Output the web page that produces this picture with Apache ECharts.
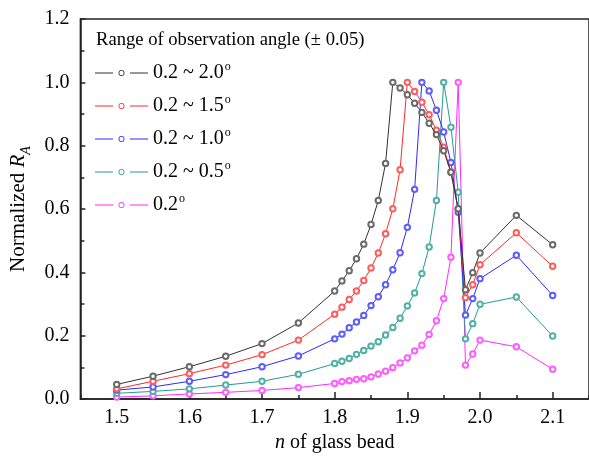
<!DOCTYPE html>
<html>
<head>
<meta charset="utf-8">
<script src="https://cdn.jsdelivr.net/npm/echarts@6/dist/echarts.min.js"></script>
<style>
html,body{margin:0;padding:0;background:#fff;}
#chart{width:589px;height:460px;}
</style>
</head>
<body>
<div id="chart"></div>
<script>
// refractive index of glass bead (x values)
const nValues = [1.5, 1.55, 1.6, 1.65, 1.7, 1.75,
  1.80, 1.81, 1.82, 1.83, 1.84, 1.85, 1.86, 1.87, 1.88, 1.89,
  1.90, 1.91, 1.92, 1.93, 1.94, 1.95, 1.96, 1.97, 1.98, 1.99,
  2.00, 2.05, 2.10];

const seriesNames = ['0.2 ~ 2.0', '0.2 ~ 1.5', '0.2 ~ 1.0', '0.2 ~ 0.5', '0.2'];
const seriesColors = ['#333333', '#ff2a2a', '#2a2aff', '#229c90', '#ff2aff'];
const symbolColors = ['#6a6a6a', '#ff5c5c', '#5c5cff', '#4fb0a6', '#ff5cff'];

const ra_20 = [0.046, 0.072, 0.102, 0.135, 0.175, 0.240,
  0.341, 0.373, 0.405, 0.443, 0.489, 0.551, 0.627, 0.744, 1.000, 0.982,
  0.961, 0.934, 0.905, 0.871, 0.835, 0.784, 0.716, 0.601, 0.345, 0.399,
  0.461, 0.580, 0.487];
const ra_15 = [0.032, 0.056, 0.080, 0.107, 0.140, 0.186,
  0.268, 0.290, 0.314, 0.341, 0.374, 0.414, 0.461, 0.522, 0.601, 0.724,
  1.000, 0.971, 0.937, 0.898, 0.849, 0.795, 0.716, 0.600, 0.320, 0.361,
  0.424, 0.525, 0.419];
const ra_10 = [0.028, 0.038, 0.056, 0.077, 0.102, 0.136,
  0.190, 0.205, 0.225, 0.243, 0.264, 0.295, 0.323, 0.361, 0.408, 0.462,
  0.542, 0.662, 1.000, 0.973, 0.912, 0.843, 0.747, 0.590, 0.265, 0.317,
  0.380, 0.454, 0.327];
const ra_05 = [0.018, 0.024, 0.032, 0.044, 0.056, 0.078,
  0.112, 0.119, 0.128, 0.141, 0.153, 0.167, 0.181, 0.202, 0.226, 0.255,
  0.294, 0.335, 0.396, 0.480, 0.627, 1.000, 0.858, 0.653, 0.190, 0.238,
  0.299, 0.322, 0.199];
const ra_02 = [0.006, 0.010, 0.016, 0.021, 0.027, 0.036,
  0.049, 0.055, 0.058, 0.062, 0.064, 0.070, 0.079, 0.088, 0.099, 0.114,
  0.130, 0.152, 0.170, 0.204, 0.247, 0.317, 0.448, 1.000, 0.107, 0.142,
  0.186, 0.165, 0.094];

const allValues = [ra_20, ra_15, ra_10, ra_05, ra_02];

const xLabelValues = [1.5, 1.6, 1.7, 1.8, 1.9, 2.0, 2.1];

const FONT = '"Liberation Serif", "Times New Roman", serif';

// legend icon: line - ring - line with gaps (53 x 6 box)
const LEGEND_ICON = 'path://M0,2.5L18,2.5L18,3.5L0,3.5Z M35,2.5L53,2.5L53,3.5L35,3.5Z ' +
  'M23.5,3A3,3 0 1,1 29.5,3A3,3 0 1,1 23.5,3Z M24.3,3A2.2,2.2 0 1,0 28.7,3A2.2,2.2 0 1,0 24.3,3Z';

const chart = echarts.init(document.getElementById('chart'), null, {renderer: 'canvas'});

const series = allValues.map((vals, k) => ({
  name: seriesNames[k],
  type: 'line',
  data: nValues.map((x, i) => [x, vals[i]]),
  symbol: 'emptyCircle',
  symbolSize: 5.4,
  showSymbol: true,
  color: seriesColors[k],
  lineStyle: {width: 1, color: seriesColors[k]},
  itemStyle: {color: symbolColors[k], borderColor: symbolColors[k], borderWidth: 0.7},
  emphasis: {disabled: true},
  animation: false,
  z: 10 - k
}));

const option = {
  animation: false,
  backgroundColor: '#fff',
  grid: {
    left: 79.5, top: 19, right: -3, bottom: 61,
    show: true, borderColor: '#222', borderWidth: 1.5, backgroundColor: 'transparent'
  },
  graphic: [{
    type: 'text', left: 96, top: 31,
    style: {text: 'Range of observation angle (\u00b1 0.05)', font: '18.6px ' + FONT, fill: '#000'}
  }],
  legend: {
    orient: 'vertical',
    left: 90, top: 56,
    padding: 5,
    itemWidth: 53, itemHeight: 6,
    itemGap: 9,
    icon: LEGEND_ICON,
    itemStyle: {borderWidth: 0},
    data: seriesNames.map((n, k) => ({name: n, itemStyle: {color: seriesColors[k], borderWidth: 0}})),
    formatter: function (name) { return '{t|' + name + '}{s|o}'; },
    textStyle: {
      fontFamily: FONT, fontSize: 20, color: '#000',
      rich: {
        t: {fontFamily: FONT, fontSize: 20, color: '#000', lineHeight: 22},
        s: {fontFamily: FONT, fontSize: 12, color: '#000', lineHeight: 12, padding: [0, 0, 12, 1]}
      }
    }
  },
  xAxis: [{
    type: 'value', min: 1.45, max: 2.15,
    name: '{i|n} of glass bead', nameLocation: 'middle', nameGap: 25,
    nameTextStyle: {
      fontFamily: FONT, fontSize: 20, color: '#000',
      rich: {i: {fontFamily: FONT, fontSize: 20, fontStyle: 'italic', color: '#000'}}
    },
    axisLine: {show: true, lineStyle: {color: '#222', width: 1.5}},
    axisTick: {show: true, inside: true, length: 7, customValues: xLabelValues, lineStyle: {color: '#222', width: 1.5}},
    axisLabel: {customValues: xLabelValues, fontFamily: FONT, fontSize: 20, color: '#000', margin: 9,
      formatter: v => v.toFixed(1)},
    splitLine: {show: false}
  }, {
    type: 'value', min: 1.45, max: 2.15, interval: 0.05, position: 'bottom',
    axisLine: {show: false},
    axisTick: {show: true, inside: true, length: 4, lineStyle: {color: '#222', width: 1.5}},
    axisLabel: {show: false},
    splitLine: {show: false}
  }],
  yAxis: {
    type: 'value', min: 0, max: 1.2, interval: 0.2,
    name: 'Normalized {i|R}{sub|A}', nameLocation: 'middle', nameGap: 44, nameRotate: 90,
    nameTextStyle: {
      fontFamily: FONT, fontSize: 21, color: '#000',
      rich: {
        i: {fontFamily: FONT, fontSize: 21, fontStyle: 'italic', color: '#000'},
        sub: {fontFamily: FONT, fontSize: 14, fontStyle: 'italic', color: '#000', verticalAlign: 'bottom', lineHeight: 30}
      }
    },
    axisLine: {show: true, lineStyle: {color: '#222', width: 1.5}},
    axisTick: {show: true, inside: true, length: 5, lineStyle: {color: '#222', width: 1.5}},
    minorTick: {show: true, splitNumber: 2, length: 4, lineStyle: {color: '#222', width: 1.5}},
    axisLabel: {fontFamily: FONT, fontSize: 20, color: '#000', margin: 11, formatter: v => v.toFixed(1)},
    splitLine: {show: false}
  },
  series: series
};

chart.setOption(option);
</script>
</body>
</html>
